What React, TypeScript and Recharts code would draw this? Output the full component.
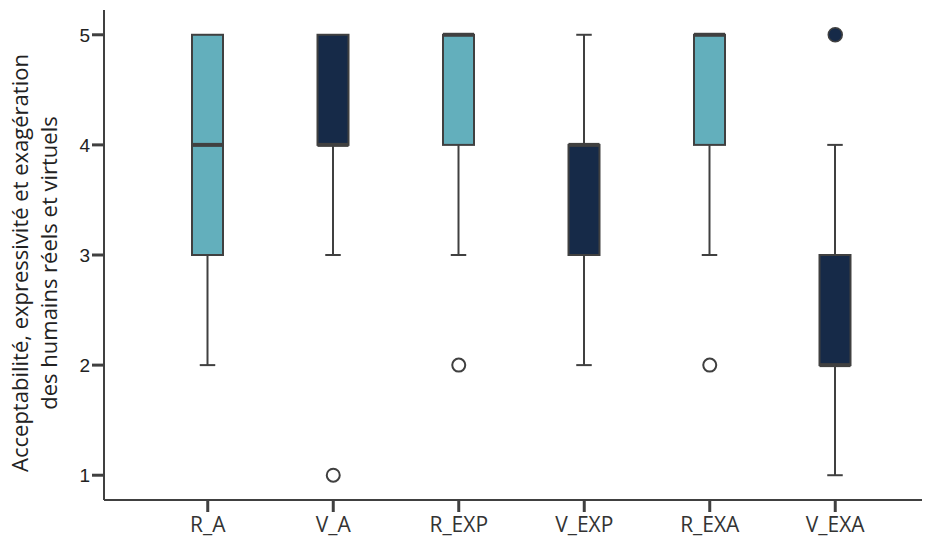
import { Bar, ComposedChart, Scatter, XAxis, YAxis } from "recharts";

const categories = ["R_A", "V_A", "R_EXP", "V_EXP", "R_EXA", "V_EXA"];
const minimum = [2, 3, 3, 2, 3, 1];
const lowerQuartile = [3, 4, 4, 3, 4, 2];
const median = [4, 4, 5, 4, 5, 2];
const upperQuartile = [5, 5, 5, 4, 5, 3];
const maximum = [5, 5, 5, 5, 5, 4];
const outliers = [null, 1, 2, null, 2, null];
const farOutliers = [null, null, null, null, null, 5];
const yTicks = [1, 2, 3, 4, 5];

const LIGHT = "#63afbc";
const DARK = "#162a48";
const LINE = "#404040";

const data = categories.map((cat, i) => ({
  cat,
  min: minimum[i],
  q1: lowerQuartile[i],
  median: median[i],
  q3: upperQuartile[i],
  max: maximum[i],
  outlier: outliers[i],
  far: farOutliers[i],
}));

function BoxShape(props: any) {
  const { x, y, width, height, payload } = props;
  const top = Math.min(y, y + height);
  const bottom = Math.max(y, y + height);
  const span = payload.max - payload.min;
  const toY = (v: number) => bottom - ((bottom - top) * (v - payload.min)) / span;
  const cx = x + width / 2;
  const cap = width / 2;
  const fill = payload.cat.startsWith("R") ? LIGHT : DARK;
  const yq1 = toY(payload.q1);
  const yq3 = toY(payload.q3);
  const ym = toY(payload.median);
  return (
    <g>
      <line x1={cx} x2={cx} y1={toY(payload.max)} y2={yq3} stroke={LINE} strokeWidth={2} />
      <line x1={cx} x2={cx} y1={yq1} y2={toY(payload.min)} stroke={LINE} strokeWidth={2} />
      {payload.max > payload.q3 && (
        <line x1={cx - cap / 2} x2={cx + cap / 2} y1={toY(payload.max)} y2={toY(payload.max)} stroke={LINE} strokeWidth={2} />
      )}
      {payload.min < payload.q1 && (
        <line x1={cx - cap / 2} x2={cx + cap / 2} y1={toY(payload.min)} y2={toY(payload.min)} stroke={LINE} strokeWidth={2} />
      )}
      <rect x={x} y={yq3} width={width} height={yq1 - yq3} fill={fill} stroke={LINE} strokeWidth={2} />
      <line x1={x} x2={x + width} y1={ym} y2={ym} stroke={LINE} strokeWidth={4} />
    </g>
  );
}

function OpenDot(props: any) {
  const { cx, cy, payload } = props;
  if (payload.outlier == null) return null;
  return <circle cx={cx} cy={cy} r={6.5} fill="#fff" stroke={LINE} strokeWidth={2} />;
}

function FilledDot(props: any) {
  const { cx, cy, payload } = props;
  if (payload.far == null) return null;
  return <circle cx={cx} cy={cy} r={7} fill={DARK} stroke={LINE} strokeWidth={1.5} />;
}

// two-line rotated axis title, baselines at x=28 and x=57
function YLabel(props: any) {
  const { viewBox } = props;
  const cy = viewBox.y + viewBox.height / 2 + 8;
  return (
    <g fontFamily="Open Sans" fontSize={22} fill="#222" textAnchor="middle">
      <text x={28} y={cy} transform={`rotate(-90 28 ${cy})`}>
        Acceptabilité, expressivité et exagération
      </text>
      <text x={57} y={cy} transform={`rotate(-90 57 ${cy})`}>
        des humains réels et virtuels
      </text>
    </g>
  );
}

export default function App() {
  return (
    <div style={{ marginLeft: -8 }}>
      <ComposedChart width={930} height={531} data={data} margin={{ top: 2, right: 0, bottom: 0, left: 0 }}>
        <XAxis
          dataKey="cat"
          height={39}
          padding={{ left: 41, right: 32 }}
          tickSize={12}
          tickMargin={5}
          tick={{ fontSize: 21, fill: "#333", fontFamily: "Open Sans" }}
          axisLine={{ stroke: LINE, strokeWidth: 2 }}
          tickLine={{ stroke: LINE, strokeWidth: 3 }}
        />
        <XAxis
          xAxisId="top"
          orientation="top"
          dataKey="cat"
          height={0}
          tick={false}
          tickLine={false}
          axisLine={{ stroke: LINE, strokeWidth: 2 }}
        />
        <YAxis
          type="number"
          domain={[0.775, 5.225]}
          ticks={yTicks}
          width={104}
          tickSize={12}
          tickMargin={2}
          allowDataOverflow
          tick={{ fontSize: 19, fill: "#222", fontFamily: "Liberation Sans" }}
          axisLine={{ stroke: LINE, strokeWidth: 2 }}
          tickLine={{ stroke: LINE, strokeWidth: 3 }}
          label={<YLabel />}
        />
        <Bar dataKey={(d: any) => [d.min, d.max]} barSize={31} shape={<BoxShape />} isAnimationActive={false} />
        <Scatter dataKey="outlier" shape={<OpenDot />} isAnimationActive={false} />
        <Scatter dataKey="far" shape={<FilledDot />} isAnimationActive={false} />
      </ComposedChart>
    </div>
  );
}
